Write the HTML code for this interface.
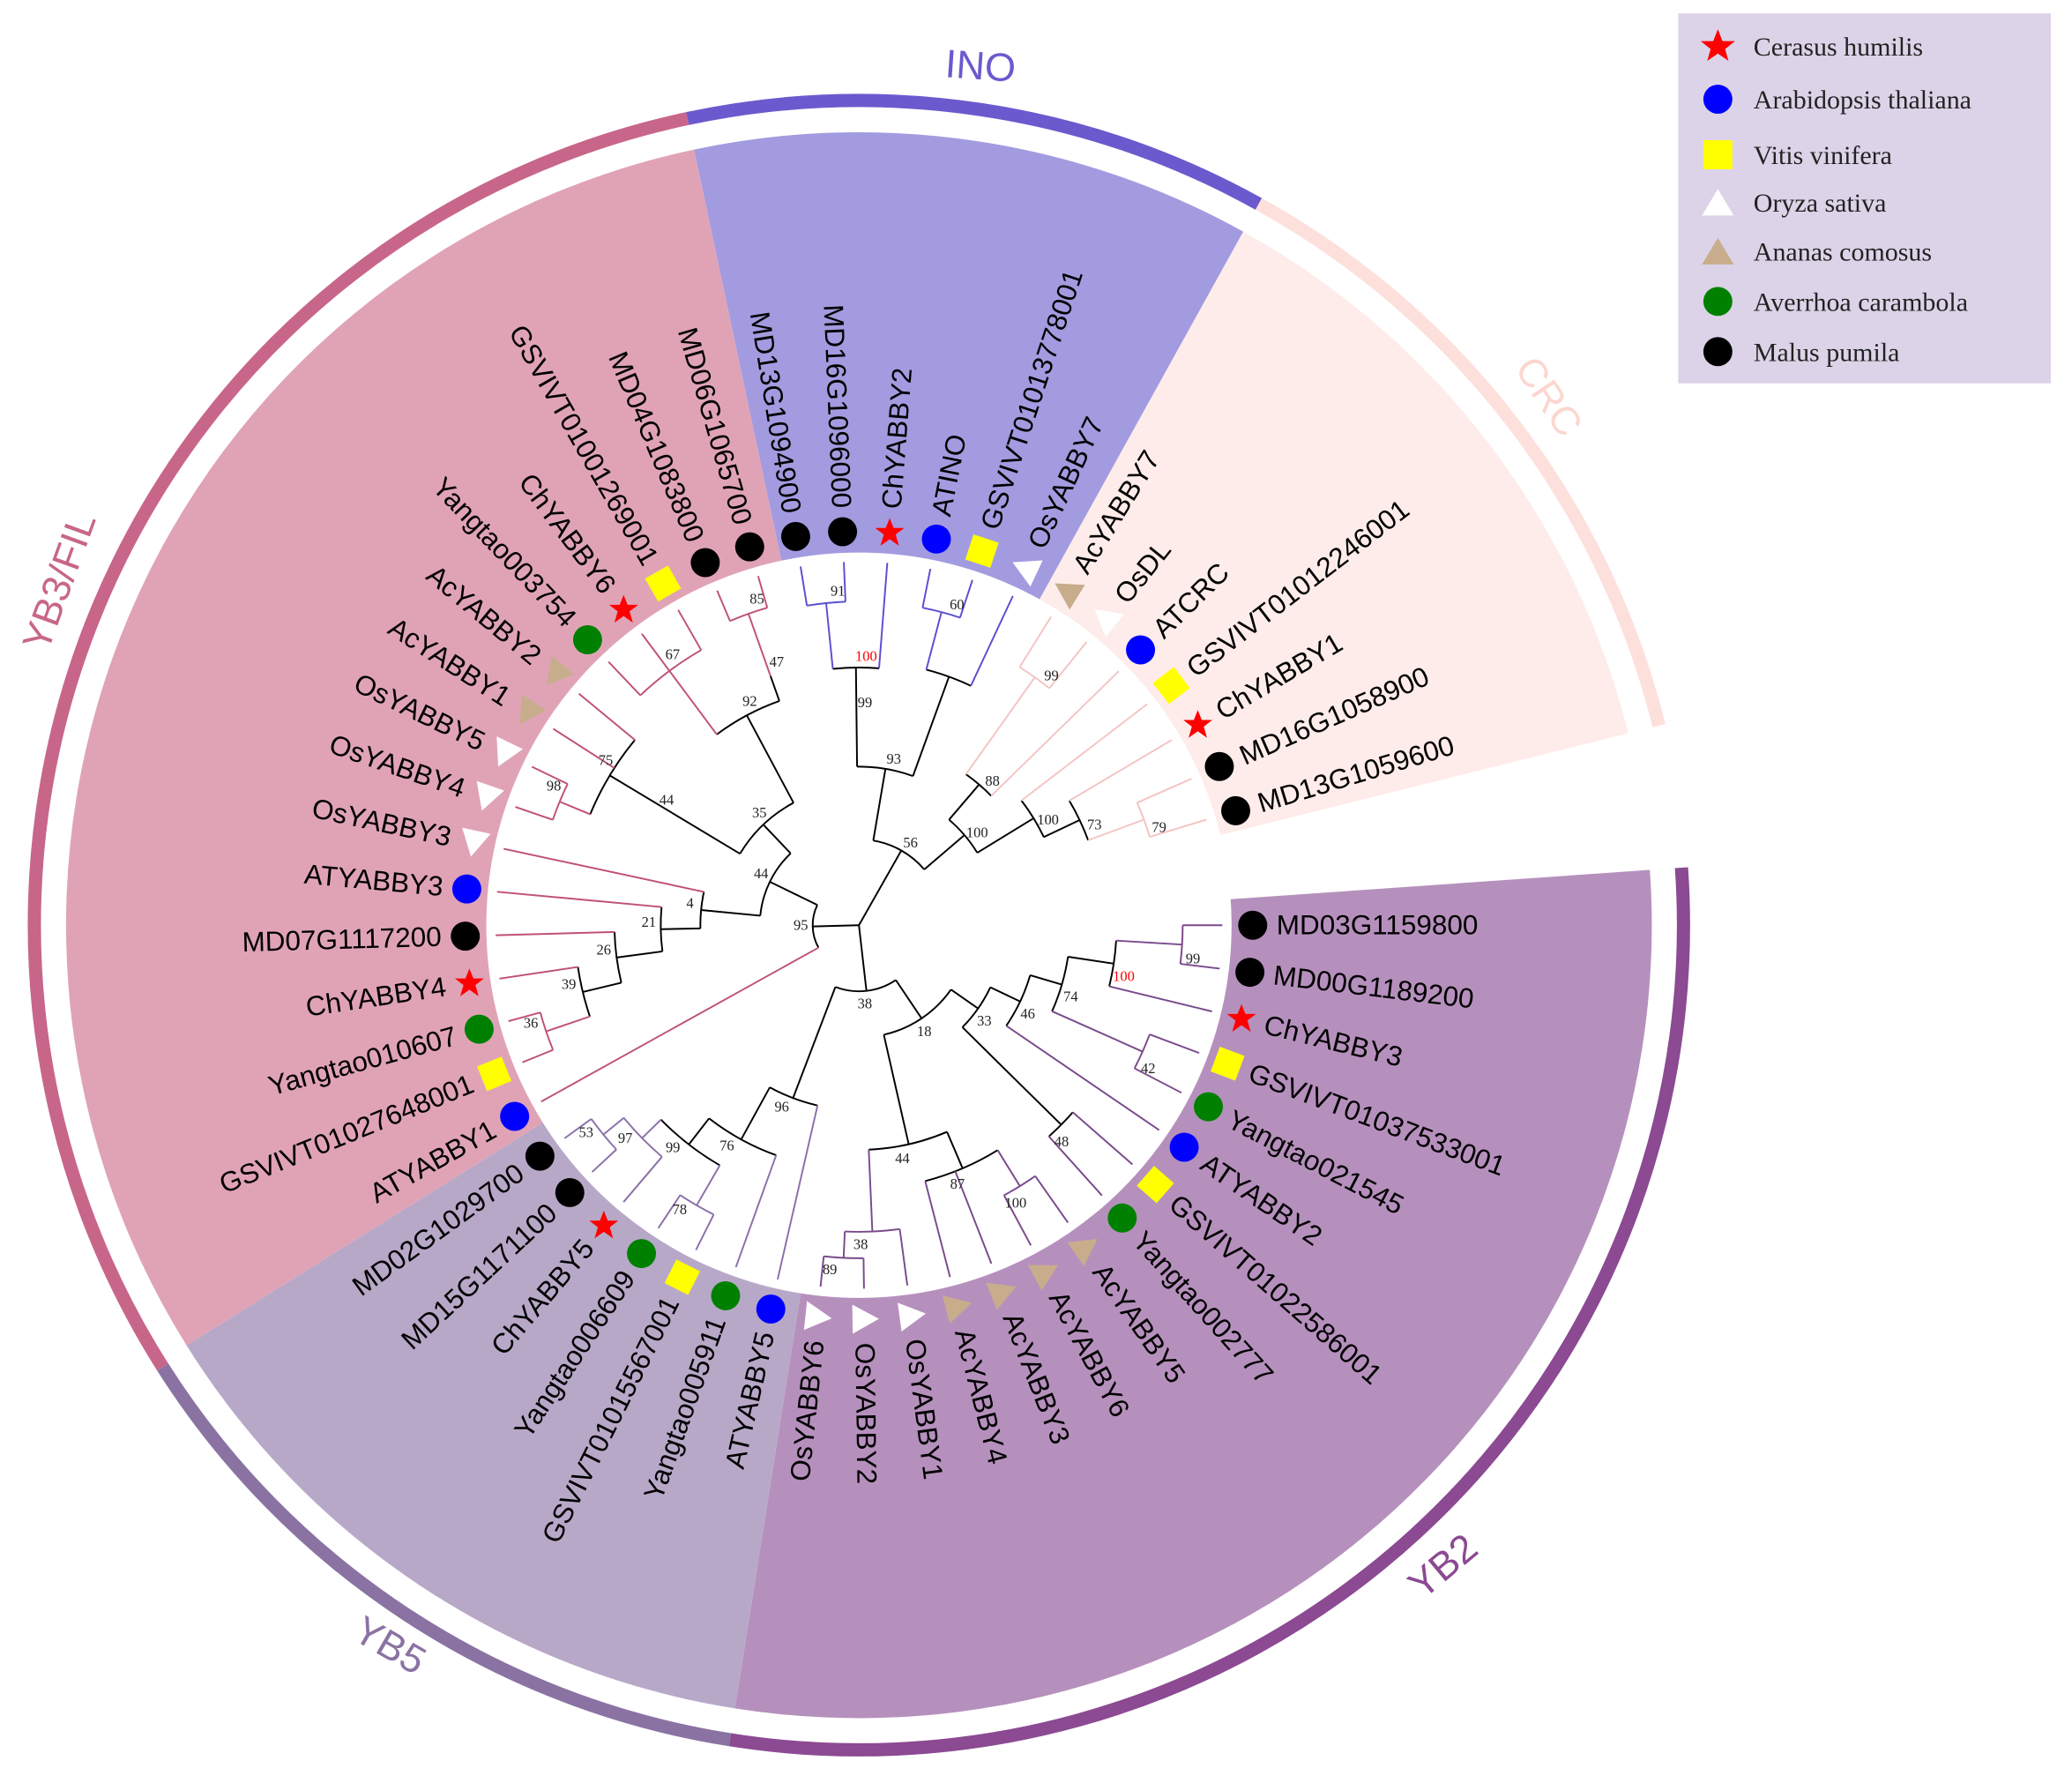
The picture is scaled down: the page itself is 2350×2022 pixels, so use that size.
<!DOCTYPE html>
<html><head><meta charset="utf-8">
<style>
html,body{margin:0;padding:0;background:#fff;}
svg{display:block;}
.lf{font-family:"Liberation Sans",Arial,sans-serif;font-size:21px;fill:#000;}
.lg{font-family:"Liberation Serif",serif;font-size:20px;fill:#222;}
.cl{font-family:"Liberation Sans",Arial,sans-serif;font-size:30px;}
</style></head>
<body>
<svg id="s" width="2350" height="2022" viewBox="0 0 1568 1349" xmlns="http://www.w3.org/2000/svg">
<g id="bg"></g>
<g id="tree"></g>
<g id="mk"></g>
<g>
<text class="lf" transform="rotate(0 650 700)" x="966" y="707">MD03G1159800</text>
<text class="lf" transform="rotate(6.862 650 700)" x="966" y="707">MD00G1189200</text>
<text class="lf" transform="rotate(13.724 650 700)" x="966" y="707">ChYABBY3</text>
<text class="lf" transform="rotate(20.586 650 700)" x="966" y="707">GSVIVT01037533001</text>
<text class="lf" transform="rotate(27.448 650 700)" x="966" y="707">Yangtao021545</text>
<text class="lf" transform="rotate(34.31 650 700)" x="966" y="707">ATYABBY2</text>
<text class="lf" transform="rotate(41.172 650 700)" x="966" y="707">GSVIVT01022586001</text>
<text class="lf" transform="rotate(48.034 650 700)" x="966" y="707">Yangtao002777</text>
<text class="lf" transform="rotate(54.896 650 700)" x="966" y="707">AcYABBY5</text>
<text class="lf" transform="rotate(61.758 650 700)" x="966" y="707">AcYABBY6</text>
<text class="lf" transform="rotate(68.62 650 700)" x="966" y="707">AcYABBY3</text>
<text class="lf" transform="rotate(75.482 650 700)" x="966" y="707">AcYABBY4</text>
<text class="lf" transform="rotate(82.344 650 700)" x="966" y="707">OsYABBY1</text>
<text class="lf" transform="rotate(89.206 650 700)" x="966" y="707">OsYABBY2</text>
<text class="lf" text-anchor="end" transform="rotate(-83.932 650 700)" x="334" y="707">OsYABBY6</text>
<text class="lf" text-anchor="end" transform="rotate(-77.07 650 700)" x="334" y="707">ATYABBY5</text>
<text class="lf" text-anchor="end" transform="rotate(-70.208 650 700)" x="334" y="707">Yangtao005911</text>
<text class="lf" text-anchor="end" transform="rotate(-63.346 650 700)" x="334" y="707">GSVIVT01015567001</text>
<text class="lf" text-anchor="end" transform="rotate(-56.484 650 700)" x="334" y="707">Yangtao006609</text>
<text class="lf" text-anchor="end" transform="rotate(-49.622 650 700)" x="334" y="707">ChYABBY5</text>
<text class="lf" text-anchor="end" transform="rotate(-42.76 650 700)" x="334" y="707">MD15G1171100</text>
<text class="lf" text-anchor="end" transform="rotate(-35.898 650 700)" x="334" y="707">MD02G1029700</text>
<text class="lf" text-anchor="end" transform="rotate(-29.036 650 700)" x="334" y="707">ATYABBY1</text>
<text class="lf" text-anchor="end" transform="rotate(-22.174 650 700)" x="334" y="707">GSVIVT01027648001</text>
<text class="lf" text-anchor="end" transform="rotate(-15.312 650 700)" x="334" y="707">Yangtao010607</text>
<text class="lf" text-anchor="end" transform="rotate(-8.45 650 700)" x="334" y="707">ChYABBY4</text>
<text class="lf" text-anchor="end" transform="rotate(-1.588 650 700)" x="334" y="707">MD07G1117200</text>
<text class="lf" text-anchor="end" transform="rotate(5.274 650 700)" x="334" y="707">ATYABBY3</text>
<text class="lf" text-anchor="end" transform="rotate(12.136 650 700)" x="334" y="707">OsYABBY3</text>
<text class="lf" text-anchor="end" transform="rotate(18.998 650 700)" x="334" y="707">OsYABBY4</text>
<text class="lf" text-anchor="end" transform="rotate(25.86 650 700)" x="334" y="707">OsYABBY5</text>
<text class="lf" text-anchor="end" transform="rotate(32.722 650 700)" x="334" y="707">AcYABBY1</text>
<text class="lf" text-anchor="end" transform="rotate(39.584 650 700)" x="334" y="707">AcYABBY2</text>
<text class="lf" text-anchor="end" transform="rotate(46.446 650 700)" x="334" y="707">Yangtao003754</text>
<text class="lf" text-anchor="end" transform="rotate(53.308 650 700)" x="334" y="707">ChYABBY6</text>
<text class="lf" text-anchor="end" transform="rotate(60.17 650 700)" x="334" y="707">GSVIVT01001269001</text>
<text class="lf" text-anchor="end" transform="rotate(67.032 650 700)" x="334" y="707">MD04G1083800</text>
<text class="lf" text-anchor="end" transform="rotate(73.894 650 700)" x="334" y="707">MD06G1065700</text>
<text class="lf" text-anchor="end" transform="rotate(80.756 650 700)" x="334" y="707">MD13G1094900</text>
<text class="lf" text-anchor="end" transform="rotate(87.618 650 700)" x="334" y="707">MD16G1096000</text>
<text class="lf" transform="rotate(274.48 650 700)" x="966" y="707">ChYABBY2</text>
<text class="lf" transform="rotate(281.342 650 700)" x="966" y="707">ATINO</text>
<text class="lf" transform="rotate(288.204 650 700)" x="966" y="707">GSVIVT01013778001</text>
<text class="lf" transform="rotate(295.066 650 700)" x="966" y="707">OsYABBY7</text>
<text class="lf" transform="rotate(301.928 650 700)" x="966" y="707">AcYABBY7</text>
<text class="lf" transform="rotate(308.79 650 700)" x="966" y="707">OsDL</text>
<text class="lf" transform="rotate(315.652 650 700)" x="966" y="707">ATCRC</text>
<text class="lf" transform="rotate(322.514 650 700)" x="966" y="707">GSVIVT01012246001</text>
<text class="lf" transform="rotate(329.376 650 700)" x="966" y="707">ChYABBY1</text>
<text class="lf" transform="rotate(336.238 650 700)" x="966" y="707">MD16G1058900</text>
<text class="lf" transform="rotate(343.1 650 700)" x="966" y="707">MD13G1059600</text>
</g>
<g id="bs"></g>
<text class="cl" fill="#6a5acd" x="742" y="60" text-anchor="middle" transform="rotate(4 742 50)">INO</text>
<text class="cl" fill="#fcd6d0" x="1172" y="310" text-anchor="middle" transform="rotate(56 1172 300)">CRC</text>
<text class="cl" fill="#c8668a" x="45" y="450" text-anchor="middle" transform="rotate(-70 45 440)">YB3/FIL</text>
<text class="cl" fill="#8b4a92" x="1092" y="1195" text-anchor="middle" transform="rotate(-40 1092 1185)">YB2</text>
<text class="cl" fill="#8a73a3" x="295" y="1255" text-anchor="middle" transform="rotate(30 295 1245)">YB5</text>
<rect x="1270" y="10" width="282" height="280" fill="#dcd3e8"/>
<polygon points="1300,22 1303.5,31 1313,31 1305.5,37 1308,46 1300,40.5 1292,46 1294.5,37 1287,31 1296.5,31" fill="#ff0000"/>
<circle cx="1300" cy="75" r="11" fill="#0000ff"/>
<rect x="1289" y="106" width="22" height="22" fill="#ffff00"/>
<polygon points="1288,163 1300,143 1312,163" fill="#fff"/>
<polygon points="1288,200 1300,180 1312,200" fill="#c8ad8c"/>
<circle cx="1300" cy="228" r="11" fill="#008000"/>
<circle cx="1300" cy="266" r="11" fill="#000"/>
<text class="lg" x="1327" y="42">Cerasus humilis</text>
<text class="lg" x="1327" y="82">Arabidopsis thaliana</text>
<text class="lg" x="1327" y="124">Vitis vinifera</text>
<text class="lg" x="1327" y="160">Oryza sativa</text>
<text class="lg" x="1327" y="197">Ananas comosus</text>
<text class="lg" x="1327" y="235">Averrhoa carambola</text>
<text class="lg" x="1327" y="273">Malus pumila</text>
</svg>
<script>
(function(){
var NS="http://www.w3.org/2000/svg",CX=650,CY=700;
function el(p,t,a){var e=document.createElementNS(NS,t);for(var k in a)e.setAttribute(k,a[k]);document.getElementById(p).appendChild(e);return e;}
function pt(r,d){var a=d*Math.PI/180;return [CX+r*Math.cos(a),CY+r*Math.sin(a)];}
function arc(r,a1,a2){var p=pt(r,a1),q=pt(r,a2);return "M"+p[0]+","+p[1]+" A"+r+","+r+" 0 "+((a2-a1)>180?1:0)+" 1 "+q[0]+","+q[1];}
function wedge(r,a1,a2){var p=pt(r,a1),q=pt(r,a2);return "M"+CX+","+CY+" L"+p[0]+","+p[1]+" A"+r+","+r+" 0 "+((a2-a1)>180?1:0)+" 1 "+q[0]+","+q[1]+" Z";}
var sec=[[-4,99,"#b690bd","#8b4a92"],[99,148,"#b8a8c8","#8a73a3"],[148,258,"#e0a3b6","#c8668a"],[258,299,"#a39be0","#6a5acd"],[299,346,"#fdecea","#fde0dc"]];
sec.forEach(function(s){el("bg","path",{d:wedge(600,s[0],s[1]),fill:s[2]});});
el("bg","circle",{cx:CX,cy:CY,r:282,fill:"#fff"});
var rs=[[-4,99],[99,147.6],[147.6,258],[258,299],[299,346]];
sec.forEach(function(s,i){el("bg","path",{d:arc(624,rs[i][0],rs[i][1]),fill:"none",stroke:s[3],"stroke-width":10});});
function A(i){return 6.862*(i-1);}
function clade(i){return i<=15?"#7a4a8c":i<=22?"#8a70a8":i<=38?"#c0507a":i<=44?"#5a4fcf":"#f4c4c4";}
function N(r,l){return {r:r,l:l,c:Array.prototype.slice.call(arguments,2)};}
var T=N(0,'',
 N(35,'95',23,N(75,'44',N(120,'4',N(150,'21',N(185,'26',N(215,'39',N(250,'36',24,25),26),27),28),29),N(105,'35',N(165,'44',N(220,'75',N(245,'98',30,31),32,33)),N(180,'92',N(240,'67',34,35,36),N(200,'47',N(250,'85',37,38)))))),
 N(65,'56',N(120,'93',N(160,'99',N(195,'100r',N(245,'91',39,40),41)),N(200,'',N(245,'60',42,43),44)),N(105,'100',N(140,'88',N(230,'99',45,46),47),N(155,'100',48,N(185,'73',49,N(230,'79',50,51))))),
 N(50,'38',N(140,'96',16,N(185,'76',N(210,'99',N(230,'97',N(250,'53',22,21),20),N(245,'78',19,18)),17)),
  N(85,'18',N(170,'44',N(232,'38',N(252,'89',15,14),13),N(200,'87',12,11,N(232,'100',10,9))),N(110,'33',N(215,'48',8,7),N(135,'46',6,N(160,'74',N(195,'100r',N(245,'99',1,2),3),N(235,'42',4,5))))))
);
function first(n){return typeof n==="number"?n:first(n.c[0]);}
function ang(n){if(typeof n==="number")return A(n);var a=n.c.map(ang);var mn=Math.min.apply(null,a),mx=Math.max.apply(null,a);n.mn=mn;n.mx=mx;n.a=(mn+mx)/2;return n.a;}
ang(T);
function draw(n,pr){
 if(typeof n==="number"){var a=A(n),p=pt(pr,a),q=pt(275,a);el("tree","line",{x1:p[0],y1:p[1],x2:q[0],y2:q[1],stroke:clade(n),"stroke-width":1.3});return;}
 var col=n.r>=225?clade(first(n)):"#000";
 if(pr!==null){var p=pt(pr,n.a),q=pt(n.r,n.a);el("tree","line",{x1:p[0],y1:p[1],x2:q[0],y2:q[1],stroke:col,"stroke-width":1.3});}
 if(n.r>0)el("tree","path",{d:arc(n.r,n.mn,n.mx),fill:"none",stroke:col,"stroke-width":1.3});
 if(n.l){var lp=pt(n.r+9,n.a+2.2);var t=el("bs","text",{x:lp[0],y:lp[1]+4,"text-anchor":"middle","font-family":"Liberation Serif,serif","font-size":"11",fill:n.l==="100r"?"#ff0000":"#222"});t.textContent=n.l==="100r"?"100":n.l;}
 n.c.forEach(function(c){draw(c,n.r);});
}
draw(T,null);
var sp=["b","b","s","y","g","B","y","g","t","t","t","t","w","w","w","B","g","y","g","s","b","b","B","y","g","s","b","B","w","w","w","t","t","g","s","y","b","b","b","b","s","B","y","w","t","w","B","y","s","b","b"];
for(var i=1;i<=51;i++){
 var a=A(i),p=pt(298,a),k=sp[i-1],g="translate("+p[0]+","+p[1]+") rotate("+a+")";
 if(k==="b")el("mk","circle",{cx:p[0],cy:p[1],r:11,fill:"#000"});
 else if(k==="B")el("mk","circle",{cx:p[0],cy:p[1],r:11,fill:"#0000ff"});
 else if(k==="g")el("mk","circle",{cx:p[0],cy:p[1],r:11,fill:"#008000"});
 else if(k==="y")el("mk","rect",{x:-10,y:-10,width:20,height:20,fill:"#ffff00",transform:g});
 else if(k==="s")el("mk","polygon",{points:"0,-11 3,-3.5 11,-3.5 4.5,1.5 7,10 0,5 -7,10 -4.5,1.5 -11,-3.5 -3,-3.5",fill:"#ff0000",transform:"translate("+p[0]+","+p[1]+")"});
 else if(k==="w"||k==="t")el("mk","polygon",{points:"-9,-11 -9,11 11,0",fill:k==="w"?"#fff":"#c8ad8c",transform:g+" rotate(-90)"});
}
})();
</script>
</body></html>
